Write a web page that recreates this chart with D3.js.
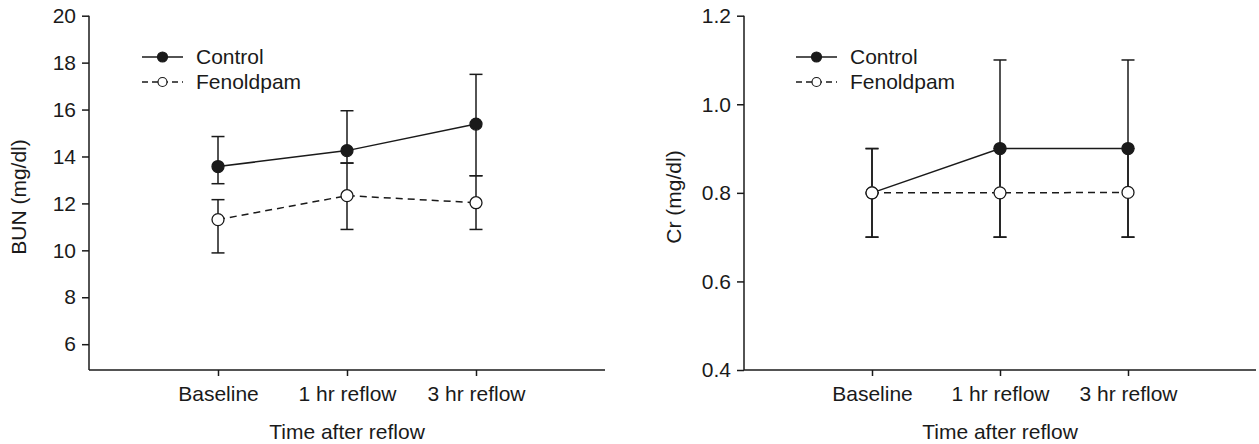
<!DOCTYPE html>
<html><head><meta charset="utf-8">
<script src="https://cdn.jsdelivr.net/npm/d3@7"></script>
<style>
html,body{margin:0;padding:0;background:#fff;}
svg text{font-family:"Liberation Sans",Arial,sans-serif;fill:#1a1a1a;}
</style></head>
<body><svg id="chart" width="1259" height="444"></svg>
<script>
const categories = ["Baseline", "1 hr reflow", "3 hr reflow"];
const seriesNames = ["Control", "Fenoldpam"];

// BUN panel
const bunControl = [13.57, 14.25, 15.38];
const bunControlLow = [12.84, 13.72, 13.18];
const bunControlHigh = [14.85, 15.95, 17.5];
const bunFenoldpam = [11.31, 12.33, 12.03];
const bunFenoldpamLow = [9.89, 10.89, 10.89];
const bunFenoldpamHigh = [12.16, 13.72, 13.18];
const bunTicks = [6, 8, 10, 12, 14, 16, 18, 20];

// Cr panel
const crControl = [0.8, 0.9, 0.9];
const crControlLow = [0.7, 0.7, 0.7];
const crControlHigh = [0.9, 1.1, 1.1];
const crFenoldpam = [0.8, 0.8, 0.801];
const crFenoldpamLow = [0.7, 0.7, 0.7];
const crFenoldpamHigh = [0.9, 0.9, 0.9];
const crTicks = [0.4, 0.6, 0.8, 1.0, 1.2];

const svg = d3.select("#chart");
const ink = "#1a1a1a";
const fs = 21;

function panel(cfg) {
  const g = svg.append("g");
  const x = d3.scaleLinear().domain([0, 4]).range([cfg.x0, cfg.x1]);
  const y = d3.scaleLinear().domain(cfg.yDomain).range([370, 15.7]);

  const ya = g.append("g").attr("transform", `translate(${cfg.x0},0)`)
    .call(d3.axisLeft(y).tickValues(cfg.ticks).tickFormat(cfg.fmt).tickSizeOuter(0).tickSize(7).tickPadding(6));
  ya.select(".domain").attr("d", `M0,${y.range()[0]}V${y.range()[1]}`);
  const xa = g.append("g").attr("transform", `translate(0,370)`)
    .call(d3.axisBottom(x).tickValues([1, 2, 3]).tickFormat(d => categories[d - 1]).tickSizeOuter(0).tickSize(6).tickPadding(10));
  [ya, xa].forEach(a => {
    a.selectAll("path,line").attr("stroke", ink).attr("stroke-width", 1.5);
    a.selectAll("text").attr("font-size", fs).attr("fill", ink).style("font-family", '"Liberation Sans",Arial,sans-serif');
  });
  xa.select(".domain").attr("d", `M${cfg.x0},0H${cfg.x1}`);

  g.append("text").attr("x", (cfg.x0 + cfg.x1) / 2 + cfg.tdx).attr("y", 439)
    .attr("text-anchor", "middle").attr("font-size", fs).text("Time after reflow");
  g.append("text").attr("transform", `translate(${cfg.ylabX},${cfg.ylabY}) rotate(-90)`)
    .attr("text-anchor", "middle").attr("font-size", fs).text(cfg.ylabel);

  const series = [
    {name: seriesNames[0], v: cfg.c, lo: cfg.cl, hi: cfg.ch, fill: ink, dash: null},
    {name: seriesNames[1], v: cfg.f, lo: cfg.fl, hi: cfg.fh, fill: "#fff", dash: "7,5"}
  ];
  series.forEach(s => {
    s.v.forEach((v, i) => {
      const cx = x(i + 1);
      g.append("line").attr("x1", cx).attr("x2", cx).attr("y1", y(s.lo[i])).attr("y2", y(s.hi[i]))
        .attr("stroke", ink).attr("stroke-width", 1.5);
      [s.lo[i], s.hi[i]].forEach(e => {
        g.append("line").attr("x1", cx - 6.5).attr("x2", cx + 6.5).attr("y1", y(e)).attr("y2", y(e))
          .attr("stroke", ink).attr("stroke-width", 1.5);
      });
    });
  });
  const line = d3.line().x((d, i) => x(i + 1)).y(d => y(d));
  series.forEach(s => {
    g.append("path").attr("d", line(s.v)).attr("fill", "none").attr("stroke", ink)
      .attr("stroke-width", 1.5).attr("stroke-dasharray", s.dash);
  });
  series.forEach(s => {
    g.selectAll(null).data(s.v).enter().append("circle")
      .attr("cx", (d, i) => x(i + 1)).attr("cy", d => y(d)).attr("r", 6)
      .attr("fill", s.fill).attr("stroke", ink).attr("stroke-width", 1.3);
  });
  series.forEach((s, i) => {
    const ly = 57 + i * 25;
    g.append("line").attr("x1", cfg.lx).attr("x2", cfg.lx + 41).attr("y1", ly).attr("y2", ly)
      .attr("stroke", ink).attr("stroke-width", 1.5).attr("stroke-dasharray", s.dash ? "6,4" : null);
    g.append("circle").attr("cx", cfg.lx + 20.5).attr("cy", ly).attr("r", i === 0 ? 5 : 4.5)
      .attr("fill", s.fill).attr("stroke", ink).attr("stroke-width", 1.2);
    g.append("text").attr("x", cfg.lx + 54).attr("y", ly).attr("dy", "0.35em")
      .attr("font-size", fs).text(s.name);
  });
}

panel({x0: 89, x1: 605, yDomain: [4.9, 20], ticks: bunTicks, fmt: d3.format("d"),
  c: bunControl, cl: bunControlLow, ch: bunControlHigh,
  f: bunFenoldpam, fl: bunFenoldpamLow, fh: bunFenoldpamHigh,
  ylabel: "BUN (mg/dl)", ylabX: 26, ylabY: 197, lx: 142, tdx: 0});
panel({x0: 744, x1: 1256, yDomain: [0.4, 1.2], ticks: crTicks, fmt: d3.format(".1f"),
  c: crControl, cl: crControlLow, ch: crControlHigh,
  f: crFenoldpam, fl: crFenoldpamLow, fh: crFenoldpamHigh,
  ylabel: "Cr (mg/dl)", ylabX: 681, ylabY: 197, lx: 796, tdx: 0});
</script></body></html>
